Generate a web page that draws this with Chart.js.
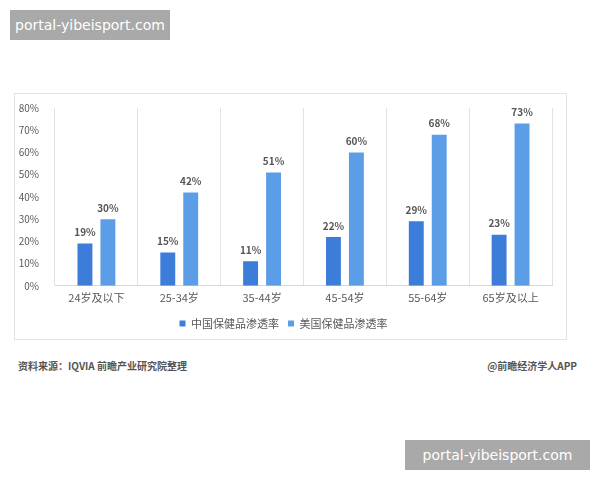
<!DOCTYPE html>
<html>
<head>
<meta charset="utf-8">
<script src="https://cdn.jsdelivr.net/npm/chart.js@4"></script>
<style>
  body { margin: 0; background: #fff; width: 600px; height: 480px; position: relative; overflow: hidden;
         font-family: "Noto Sans CJK SC", "Noto Sans", sans-serif; }
  .tag { position: absolute; background: #a9a9a9; color: #fff; font-family: "DejaVu Sans", sans-serif;
         font-size: 14px; line-height: 30px; text-align: center; }
  #frame { position: absolute; left: 14px; top: 93px; width: 553px; height: 247px;
           border: 1px solid #e3e3e3; box-sizing: border-box; }
  .note { position: absolute; top: 358px; font-size: 10px; color: #555; font-weight: bold; }
</style>
</head>
<body>
<div class="tag" style="left:10px; top:10px; width:160px; height:30px;">portal-yibeisport.com</div>
<div id="frame"><canvas id="chart"></canvas></div>
<div class="note" style="left:18px;">资料来源：IQVIA 前瞻产业研究院整理</div>
<div class="note" style="right:23px;">@前瞻经济学人APP</div>
<div class="tag" style="left:405px; top:440px; width:185px; height:30px;">portal-yibeisport.com</div>
<script>
// 年龄段
const ageGroups = ["24岁及以下", "25-34岁", "35-44岁", "45-54岁", "55-64岁", "65岁及以上"];
// 渗透率 (%)
const chinaRate = [19, 15, 11, 22, 29, 23];
const usRate = [30, 42, 51, 60, 68, 73];
const seriesNames = ["中国保健品渗透率", "美国保健品渗透率"];

const cjk = '"Noto Sans CJK SC", "Noto Sans", sans-serif';

// 柱子上方的数值
const valueLabels = {
	id: 'valueLabels',
	afterDatasetsDraw(chart) {
		const ctx = chart.ctx;
		ctx.save();
		ctx.font = 'bold 10px ' + cjk;
		ctx.fillStyle = '#555';
		ctx.textAlign = 'center';
		ctx.textBaseline = 'bottom';
		chart.data.datasets.forEach((ds, i) => {
			chart.getDatasetMeta(i).data.forEach((bar, j) => {
				ctx.fillText(ds.data[j] + '%', bar.x, bar.y - 6);
			});
		});
		ctx.restore();
	}
};

const canvas = document.getElementById('chart');
canvas.width = 551;
canvas.height = 245;

new Chart(canvas.getContext('2d'), {
	type: 'bar',
	data: {
		labels: ageGroups,
		datasets: [{
			label: seriesNames[0],
			backgroundColor: '#3b7dd8',
			data: chinaRate
		}, {
			label: seriesNames[1],
			backgroundColor: '#5b9de6',
			data: usRate
		}]
	},
	options: {
		responsive: false,
		animation: false,
		categoryPercentage: 0.554,
		barPercentage: 0.65,
		layout: { padding: { top: 12, right: 14, left: 0, bottom: 0 } },
		plugins: {
			tooltip: { enabled: false },
			legend: {
				position: 'bottom',
				labels: {
					boxWidth: 6, boxHeight: 6, padding: 9,
					color: '#595959',
					font: { size: 11, family: cjk }
				}
			}
		},
		scales: {
			x: {
				grid: { offset: true, color: '#e2e2e2', drawTicks: false },
				border: { color: '#d9d9d9' },
				ticks: { color: '#595959', padding: 5, font: { size: 11, family: cjk } }
			},
			y: {
				min: 0, max: 80,
				grid: { display: false },
				border: { display: false },
				afterFit(scale) { scale.width = 40; },
				ticks: {
					stepSize: 10, color: '#595959', padding: 8,
					font: { size: 10, family: cjk },
					callback: v => v + '%'
				}
			}
		}
	},
	plugins: [valueLabels]
});
</script>
</body>
</html>
